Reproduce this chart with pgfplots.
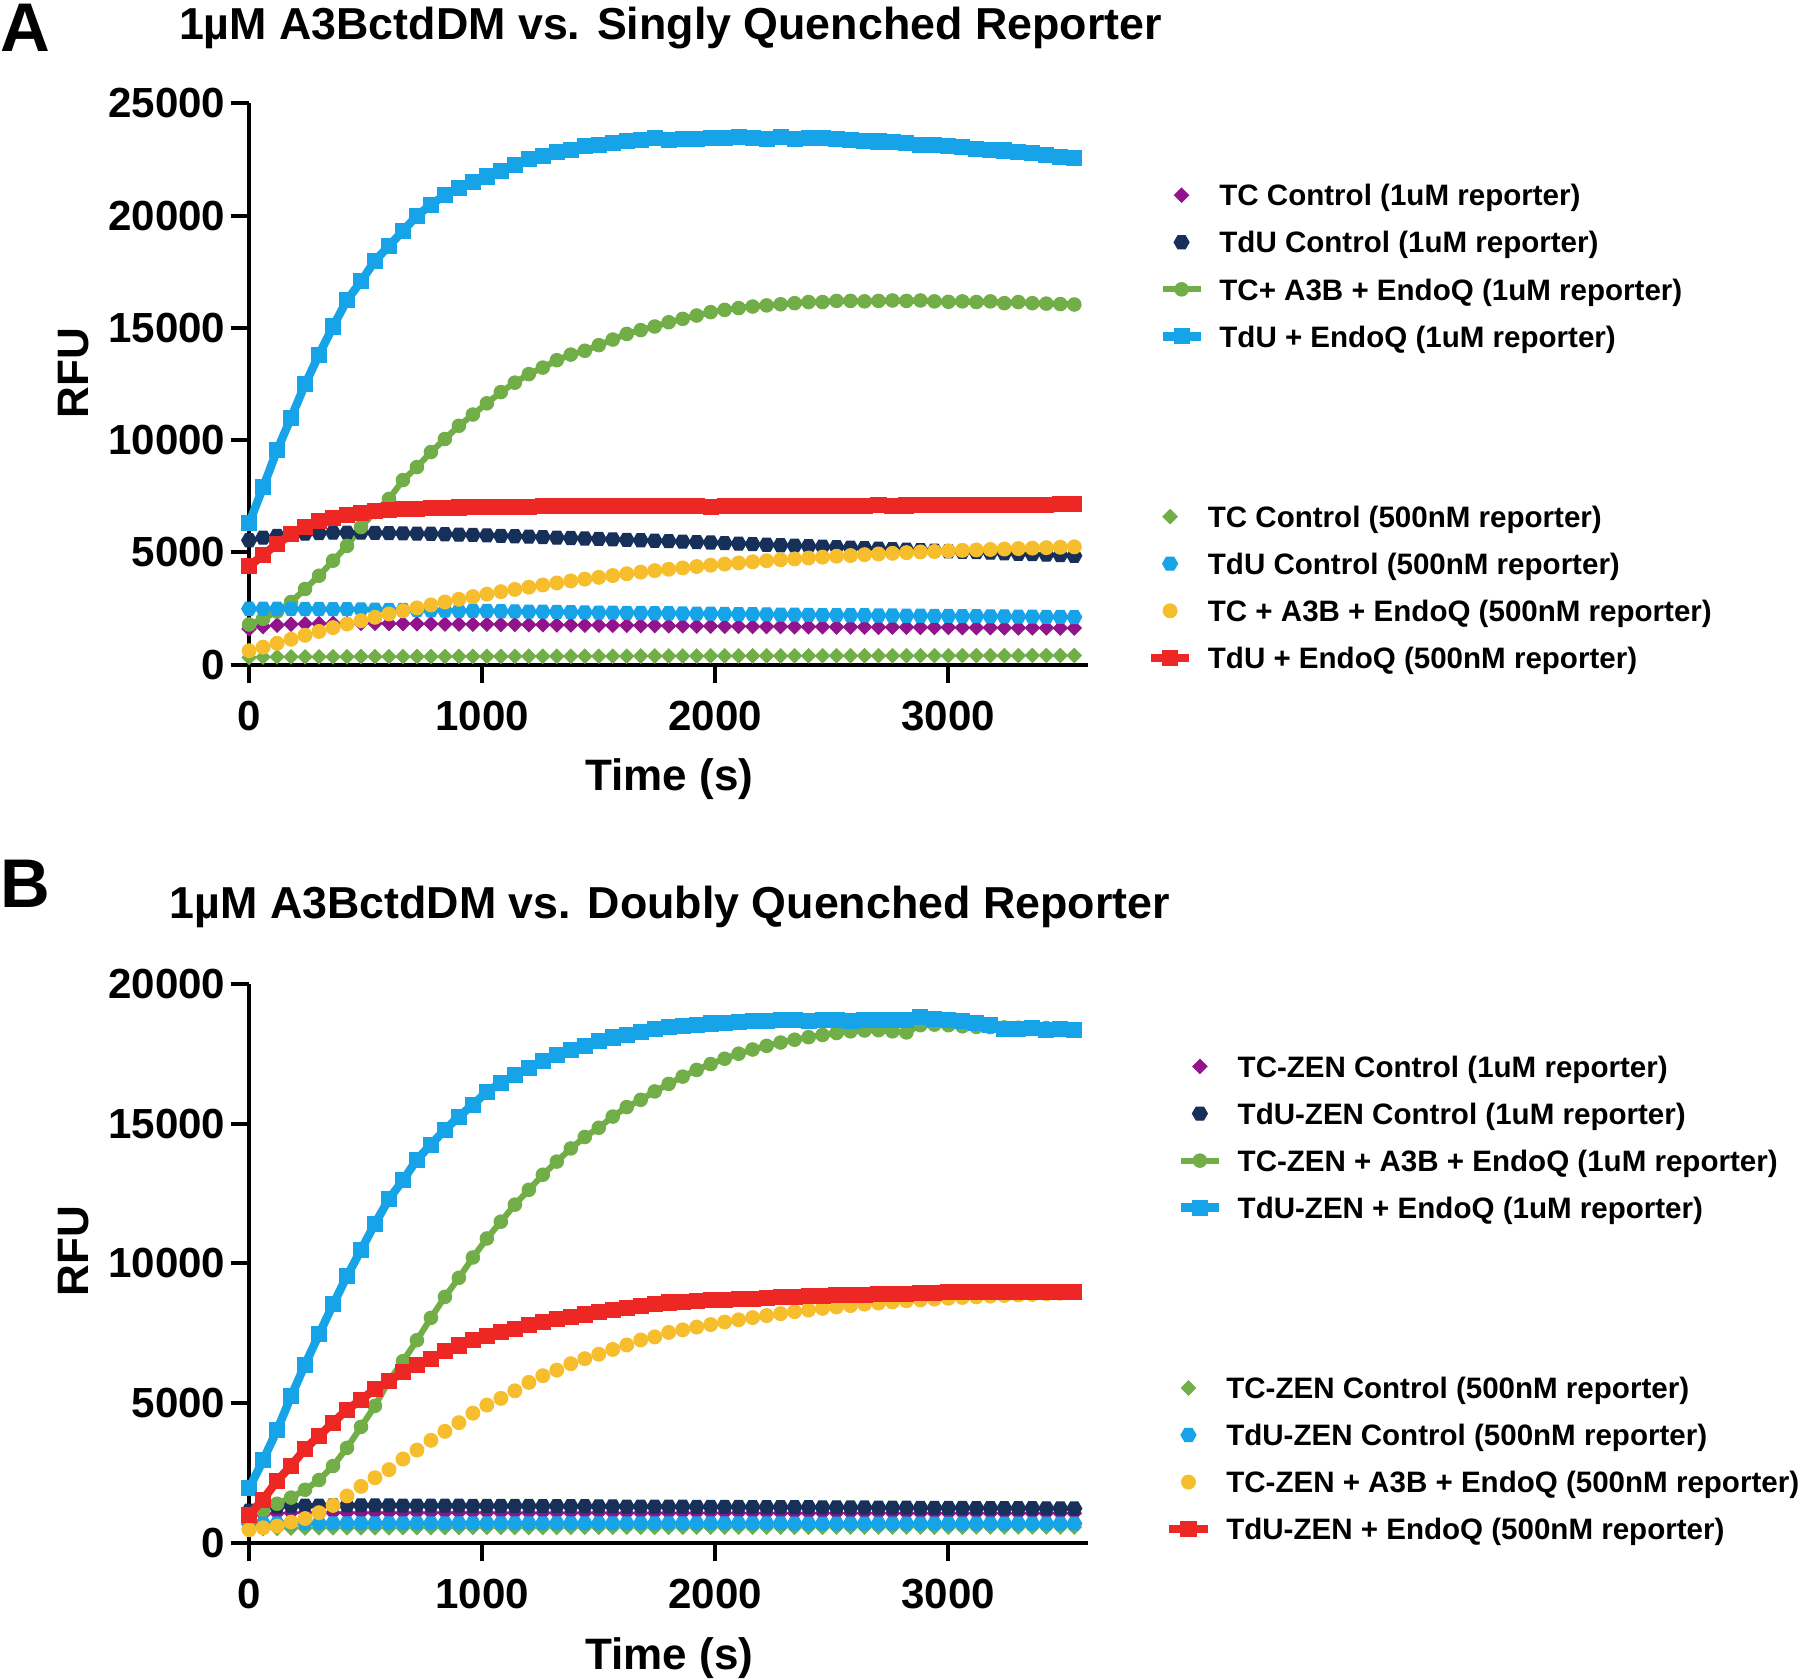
\documentclass[border=0pt]{standalone}
\usepackage{fontspec}
\setmainfont{Liberation Sans}
\usepackage{pgfplots}
\usepackage{pgfplotstable}
\pgfplotsset{compat=1.18}

\definecolor{cpurple}{RGB}{145,20,140}
\definecolor{cnavy}{RGB}{22,48,90}
\definecolor{cgreen}{RGB}{114,174,72}
\definecolor{cblue}{RGB}{22,163,232}
\definecolor{cyellow}{RGB}{246,190,44}
\definecolor{cred}{RGB}{237,40,36}

% flat-topped hexagon marker (Prism style)
\pgfdeclareplotmark{hexagon*}{%
  \pgfpathmoveto{\pgfqpoint{\pgfplotmarksize}{0pt}}%
  \pgfpathlineto{\pgfqpoint{0.5\pgfplotmarksize}{0.866\pgfplotmarksize}}%
  \pgfpathlineto{\pgfqpoint{-0.5\pgfplotmarksize}{0.866\pgfplotmarksize}}%
  \pgfpathlineto{\pgfqpoint{-\pgfplotmarksize}{0pt}}%
  \pgfpathlineto{\pgfqpoint{-0.5\pgfplotmarksize}{-0.866\pgfplotmarksize}}%
  \pgfpathlineto{\pgfqpoint{0.5\pgfplotmarksize}{-0.866\pgfplotmarksize}}%
  \pgfpathclose
  \pgfusepathqfillstroke}

% t, TC ctrl 1uM, TdU ctrl 1uM, TC+A3B+EndoQ 1uM, TdU+EndoQ 1uM, then the same at 500nM
\pgfplotstableread{
t tca tdua tcab tdub tcc tduc tccd tdud
0 1590 5540 1790 6300 320 2490 620 4380
60 1700 5660 2040 7900 340 2490 780 4880
120 1760 5740 2370 9550 350 2490 950 5380
180 1800 5800 2790 11000 350 2490 1130 5800
240 1820 5840 3370 12480 350 2480 1310 6130
300 1830 5860 3960 13810 350 2480 1480 6380
360 1840 5880 4630 15060 355 2470 1650 6550
420 1840 5880 5290 16230 355 2470 1810 6660
480 1840 5880 6130 17070 360 2460 1960 6760
540 1840 5870 6800 17990 360 2450 2110 6830
600 1830 5860 7380 18650 360 2440 2260 6880
660 1830 5850 8220 19320 360 2440 2400 6920
720 1820 5840 8800 19990 365 2430 2530 6950
780 1820 5830 9470 20490 365 2420 2660 6970
840 1810 5810 10050 20910 365 2410 2790 6990
900 1810 5790 10640 21240 370 2400 2910 7000
960 1800 5780 11140 21490 370 2400 3030 7010
1020 1800 5760 11640 21740 370 2390 3140 7020
1080 1790 5740 12140 21990 370 2380 3250 7030
1140 1790 5720 12560 22240 375 2370 3350 7040
1200 1780 5700 12940 22500 375 2360 3450 7040
1260 1780 5680 13230 22660 375 2360 3550 7050
1320 1770 5660 13560 22830 375 2350 3640 7050
1380 1770 5640 13810 22910 380 2340 3730 7060
1440 1760 5620 13980 23080 380 2330 3810 7050
1500 1760 5600 14230 23160 380 2320 3890 7060
1560 1750 5580 14480 23250 380 2320 3970 7060
1620 1750 5560 14730 23330 380 2310 4050 7070
1680 1740 5540 14900 23360 385 2300 4120 7060
1740 1740 5520 15060 23460 385 2290 4190 7070
1800 1730 5500 15250 23380 385 2290 4250 7060
1860 1730 5480 15400 23400 385 2280 4310 7070
1920 1720 5460 15550 23420 385 2270 4370 7060
1980 1720 5440 15700 23460 390 2270 4430 7040
2040 1710 5410 15800 23440 390 2260 4480 7060
2100 1710 5390 15880 23480 390 2250 4530 7070
2160 1700 5370 15950 23460 390 2250 4580 7080
2220 1700 5340 16000 23420 390 2240 4630 7060
2280 1700 5320 16050 23520 390 2230 4670 7070
2340 1690 5300 16100 23420 395 2230 4710 7080
2400 1690 5280 16150 23440 395 2220 4750 7080
2460 1690 5260 16150 23460 395 2210 4790 7070
2520 1680 5230 16200 23420 395 2210 4830 7080
2580 1680 5210 16200 23380 395 2200 4860 7060
2640 1680 5190 16180 23340 400 2200 4900 7080
2700 1670 5170 16200 23300 400 2190 4930 7100
2760 1670 5140 16220 23280 400 2190 4960 7060
2820 1670 5120 16200 23220 400 2180 4990 7090
2880 1660 5100 16220 23160 400 2180 5020 7100
2940 1660 5080 16180 23130 400 2170 5040 7120
3000 1660 5050 16160 23100 400 2170 5070 7110
3060 1650 5030 16180 23060 405 2160 5090 7110
3120 1650 5010 16150 22980 405 2160 5110 7100
3180 1650 4990 16180 22940 405 2150 5130 7110
3240 1640 4960 16100 22900 405 2150 5150 7120
3300 1640 4940 16150 22850 405 2140 5170 7130
3360 1640 4920 16100 22780 410 2140 5190 7130
3420 1640 4900 16080 22700 410 2130 5210 7130
3480 1630 4880 16060 22620 410 2130 5230 7140
3540 1630 4850 16040 22560 410 2120 5250 7140
}\singly

\pgfplotstableread{
t tca tdua tcab tdub tcc tduc tccd tdud
0 950 1150 950 1950 500 680 470 1010
60 1030 1250 1150 2960 510 690 540 1550
120 1060 1300 1400 4030 520 695 600 2220
180 1075 1320 1620 5240 530 700 740 2760
240 1080 1330 1900 6380 530 700 870 3360
300 1080 1335 2250 7460 540 700 1080 3830
360 1080 1340 2750 8530 540 700 1340 4300
420 1080 1340 3400 9540 540 700 1680 4770
480 1080 1340 4150 10480 540 700 2020 5110
540 1080 1340 4900 11420 540 700 2330 5510
600 1080 1340 5800 12300 540 700 2620 5780
660 1080 1335 6500 12970 545 700 3000 6120
720 1080 1335 7250 13710 545 700 3320 6380
780 1080 1330 8050 14250 545 700 3670 6590
840 1080 1330 8800 14780 545 700 3990 6850
900 1080 1330 9480 15250 550 700 4300 7060
960 1080 1325 10210 15680 550 700 4640 7260
1020 1080 1325 10890 16130 550 700 4930 7390
1080 1075 1320 11490 16460 550 700 5170 7530
1140 1075 1320 12100 16730 550 700 5440 7660
1200 1075 1320 12630 17000 550 700 5740 7800
1260 1075 1315 13170 17240 550 700 5980 7890
1320 1075 1315 13640 17470 550 700 6180 8000
1380 1075 1310 14110 17630 555 700 6410 8090
1440 1075 1310 14520 17780 555 695 6590 8170
1500 1075 1305 14850 17940 555 695 6750 8270
1560 1070 1305 15250 18080 555 695 6920 8330
1620 1070 1300 15590 18180 555 695 7080 8400
1680 1070 1300 15850 18280 555 695 7260 8470
1740 1070 1300 16150 18370 555 695 7370 8530
1800 1070 1295 16420 18450 555 695 7530 8600
1860 1070 1295 16680 18500 560 695 7620 8620
1920 1070 1290 16920 18540 560 695 7720 8650
1980 1070 1290 17130 18580 560 695 7810 8680
2040 1070 1285 17320 18600 560 695 7900 8700
2100 1070 1285 17500 18620 560 695 7980 8720
2160 1065 1280 17650 18660 560 695 8060 8740
2220 1065 1280 17780 18680 560 695 8130 8760
2280 1065 1280 17900 18700 560 695 8200 8780
2340 1065 1275 18000 18700 560 690 8270 8800
2400 1065 1275 18090 18680 560 690 8330 8820
2460 1065 1270 18170 18720 560 690 8390 8840
2520 1065 1270 18240 18700 565 690 8440 8860
2580 1065 1265 18300 18680 565 690 8490 8870
2640 1065 1265 18330 18700 565 690 8540 8880
2700 1065 1260 18340 18690 565 690 8580 8900
2760 1060 1260 18300 18700 565 690 8620 8910
2820 1060 1260 18260 18720 565 690 8660 8920
2880 1060 1255 18520 18800 565 690 8690 8940
2940 1060 1255 18540 18750 565 690 8720 8950
3000 1060 1250 18520 18700 565 690 8750 8960
3060 1060 1250 18480 18680 565 690 8780 8960
3120 1060 1245 18460 18600 570 690 8800 8970
3180 1060 1245 18450 18520 570 690 8830 8980
3240 1060 1240 18440 18400 570 690 8850 8990
3300 1060 1240 18430 18380 570 690 8870 8980
3360 1060 1240 18440 18420 570 690 8890 8990
3420 1060 1235 18420 18350 570 690 8910 8980
3480 1060 1235 18400 18380 570 690 8930 8990
3540 1060 1230 18380 18350 570 690 8950 8990
}\doubly

\pgfplotsset{
  limg/.style={legend image code/.code={%
    \draw[mark repeat=2,mark phase=2,##1] plot coordinates {(0cm,0cm) (0.175cm,0cm) (0.35cm,0cm)};}},
  panel/.style={
    scale only axis, width=219.3pt,
    xmin=0, xmax=3600, ymin=0,
    axis lines=left, axis line style={-, line width=1.05pt},
    tick align=outside, major tick length=4.8pt,
    every tick/.style={black, line width=1.05pt},
    xtick={0,1000,2000,3000},
    tick label style={font=\fontsize{11}{13}\selectfont\bfseries},
    xticklabel style={yshift=-1.2pt},
    yticklabel style={xshift=2.1pt},
    /pgf/number format/assume math mode=true,
    /pgf/number format/1000 sep={},
    scaled ticks=false,
    clip=false,
    legend cell align=left,
    legend style={draw=none, fill=none, inner sep=0pt, outer sep=0pt,
      anchor=north west, font=\fontsize{7.72}{9}\selectfont\bfseries,
      row sep=6.7pt, column sep=3.8pt,
      nodes={inner sep=0pt, text height=5.6pt, text depth=0pt}},
    xlabel style={font=\fontsize{11.5}{13}\selectfont\bfseries, anchor=base},
    ylabel style={font=\fontsize{11.5}{13}\selectfont\bfseries, anchor=base},
  },
  ctrlA/.style={only marks, mark=square*, mark size=1.3pt, color=#1,
    mark options={rotate=45, line width=0.3pt}, limg},
  ctrlB/.style={only marks, mark=hexagon*, mark size=1.95pt, color=#1,
    mark options={line width=0.3pt}, limg},
  dots/.style={only marks, mark=*, mark size=1.8pt, color=#1,
    mark options={line width=0.3pt}, limg},
  rnd/.style={color=#1, line width=1.6pt, mark=*, mark size=1.75pt,
    mark options={solid, line width=0.3pt}, limg},
  sq/.style={color=#1, line width=2.2pt, mark=square*, mark size=1.95pt,
    mark options={solid, line width=0.3pt}, limg},
}

\begin{document}
\begin{tikzpicture}

\node[anchor=north west, inner sep=0pt, font=\fontsize{18}{20}\selectfont\bfseries] at (0pt,-0.8pt) {A};
\node[anchor=north west, inner sep=0pt, font=\fontsize{18}{20}\selectfont\bfseries] at (0pt,-224.7pt) {B};
\node[anchor=base, inner sep=0pt, font=\fontsize{11.7}{13}\selectfont\bfseries] at (175.2pt,-10.2pt)
  {1µM A3BctdDM vs. Singly Quenched Reporter};
\node[anchor=base, inner sep=0pt, font=\fontsize{11.7}{13}\selectfont\bfseries] at (175.05pt,-240pt)
  {1µM A3BctdDM vs. Doubly Quenched Reporter};

% ---- panel A, 1uM reporter ----
\begin{axis}[panel, at={(65.1pt,-173.7pt)}, anchor=south west,
  height=146.7pt, ymax=25000, ytick={0,5000,10000,15000,20000,25000},
  xlabel={Time (s)}, xlabel style={at={(axis description cs:0.5007,-0.225)}},
  ylabel={RFU}, ylabel style={at={(axis description cs:-0.1919,0.519)}},
  legend style={at={(axis description cs:1.0835,0.8554)}}]
\addplot[ctrlA=cpurple] table[x=t,y=tca] {\singly};
\addlegendentry{TC Control (1uM reporter)}
\addplot[ctrlB=cnavy] table[x=t,y=tdua] {\singly};
\addlegendentry{TdU Control (1uM reporter)}
\addplot[rnd=cgreen] table[x=t,y=tcab] {\singly};
\addlegendentry{TC+ A3B + EndoQ (1uM reporter)}
\addplot[sq=cblue] table[x=t,y=tdub] {\singly};
\addlegendentry{TdU + EndoQ (1uM reporter)}
\end{axis}

% ---- panel A, 500nM reporter ----
\begin{axis}[panel, at={(65.1pt,-173.7pt)}, anchor=south west,
  height=146.7pt, ymax=25000, hide axis,
  legend style={at={(axis description cs:1.0698,0.2828)}}]
\addplot[ctrlA=cgreen] table[x=t,y=tcc] {\singly};
\addlegendentry{TC Control (500nM reporter)}
\addplot[ctrlB=cblue] table[x=t,y=tduc] {\singly};
\addlegendentry{TdU Control (500nM reporter)}
\addplot[dots=cyellow] table[x=t,y=tccd] {\singly};
\addlegendentry{TC + A3B + EndoQ (500nM reporter)}
\addplot[sq=cred] table[x=t,y=tdud] {\singly};
\addlegendentry{TdU + EndoQ (500nM reporter)}
\end{axis}

% ---- panel B, 1uM reporter ----
\begin{axis}[panel, at={(65.1pt,-403.2pt)}, anchor=south west,
  height=146.1pt, ymax=20000, ytick={0,5000,10000,15000,20000},
  xlabel={Time (s)}, xlabel style={at={(axis description cs:0.5007,-0.226)}},
  ylabel={RFU}, ylabel style={at={(axis description cs:-0.1919,0.5216)}},
  legend style={at={(axis description cs:1.1053,0.8713)}}]
\addplot[ctrlA=cpurple] table[x=t,y=tca] {\doubly};
\addlegendentry{TC-ZEN Control (1uM reporter)}
\addplot[ctrlB=cnavy] table[x=t,y=tdua] {\doubly};
\addlegendentry{TdU-ZEN Control (1uM reporter)}
\addplot[rnd=cgreen] table[x=t,y=tcab] {\doubly};
\addlegendentry{TC-ZEN + A3B + EndoQ (1uM reporter)}
\addplot[sq=cblue] table[x=t,y=tdub] {\doubly};
\addlegendentry{TdU-ZEN + EndoQ (1uM reporter)}
\end{axis}

% ---- panel B, 500nM reporter ----
\begin{axis}[panel, at={(65.1pt,-403.2pt)}, anchor=south west,
  height=146.1pt, ymax=20000, hide axis,
  legend style={at={(axis description cs:1.0917,0.2963)}}]
\addplot[ctrlA=cgreen] table[x=t,y=tcc] {\doubly};
\addlegendentry{TC-ZEN Control (500nM reporter)}
\addplot[ctrlB=cblue] table[x=t,y=tduc] {\doubly};
\addlegendentry{TdU-ZEN Control (500nM reporter)}
\addplot[dots=cyellow] table[x=t,y=tccd] {\doubly};
\addlegendentry{TC-ZEN + A3B + EndoQ (500nM reporter)}
\addplot[sq=cred] table[x=t,y=tdud] {\doubly};
\addlegendentry{TdU-ZEN + EndoQ (500nM reporter)}
\end{axis}

\pgfresetboundingbox
\path[use as bounding box] (0pt,0pt) rectangle (470.4pt,-438.6pt);
\end{tikzpicture}
\end{document}
